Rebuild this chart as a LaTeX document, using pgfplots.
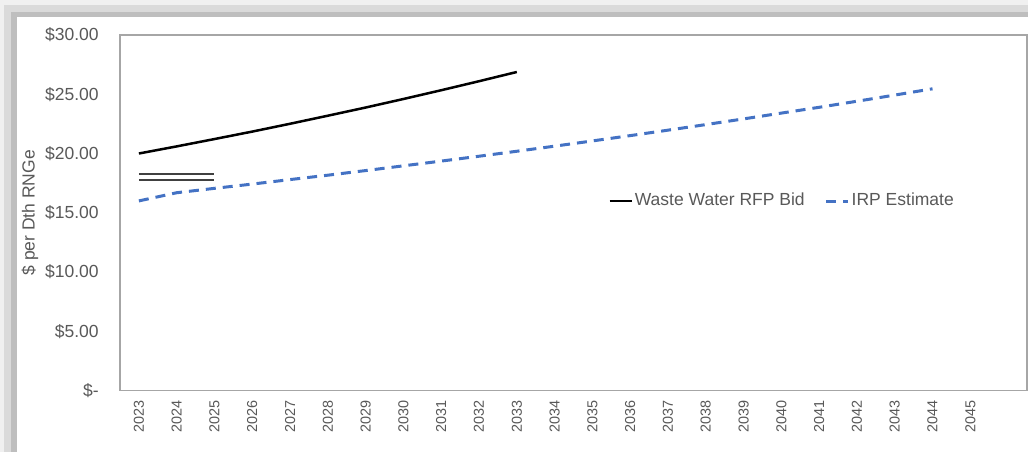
\documentclass[border=0pt]{standalone}
\usepackage{fontspec}
\setmainfont{Liberation Sans}
\usepackage{pgfplots}
\pgfplotsset{compat=1.18}
\definecolor{txtgray}{HTML}{595959}
\definecolor{axgray}{HTML}{A6A6A6}
\definecolor{irpblue}{HTML}{4472C4}
\definecolor{bidgray}{HTML}{404040}
\definecolor{frameA}{HTML}{F0F0F0}
\definecolor{frameB}{HTML}{DADADA}
\definecolor{frameC}{HTML}{BEBEBE}
\begin{document}
\begin{tikzpicture}
\useasboundingbox (0,0) rectangle (514pt,226pt);
\fill[frameA] (0,0) rectangle (514pt,226pt);
\fill[frameB] (2pt,0) rectangle (514pt,223.5pt);
\fill[frameC] (5.5pt,0) rectangle (514pt,220pt);
\fill[white] (8.5pt,0) rectangle (514pt,217.5pt);
\begin{axis}[
  scale only axis,
  width=453.5pt, height=177.75pt,
  at={(60pt,30.75pt)}, anchor=south west,
  xmin=-0.5, xmax=23.5, ymin=0, ymax=30,
  axis line style={axgray, line width=0.6pt},
  major tick length=0pt,
  xtick={0,1,...,22},
  xticklabels={2023,2024,2025,2026,2027,2028,2029,2030,2031,2032,2033,2034,2035,2036,2037,2038,2039,2040,2041,2042,2043,2044,2045},
  ytick={0,5,10,15,20,25,30},
  yticklabels={{\$-\hspace{4.5pt}},{\$5.00},{\$10.00},{\$15.00},{\$20.00},{\$25.00},{\$30.00}},
  xticklabel style={rotate=90, anchor=east, inner sep=0pt, font=\fontsize{7.2}{8}\selectfont, text=txtgray},
  xticklabel shift=5pt,
  yticklabel style={anchor=east, inner sep=0pt, font=\fontsize{8.75}{10}\selectfont, text=txtgray},
  yticklabel shift=10.5pt,
  ylabel={\$ per Dth RNGe},
  every axis y label/.style={at={(axis description cs:-0.0992,0.5)}, rotate=90, anchor=center, font=\fontsize{8.75}{10}\selectfont, text=txtgray},
  legend style={at={(axis description cs:0.730,0.533)}, anchor=center, draw=none, fill=none,
    font=\fontsize{8.75}{10}\selectfont, text=txtgray,
    nodes={inner xsep=1pt, inner ysep=1pt},
    /tikz/every even column/.append style={column sep=9pt}},
  legend columns=2,
  legend image code/.code={\draw[#1] (0pt,0pt) -- (11pt,0pt);},
]
\addplot[black, line width=1.25pt] coordinates {
(0,20.00)(1,20.60)(2,21.22)(3,21.85)(4,22.51)(5,23.19)(6,23.88)(7,24.60)(8,25.34)(9,26.10)(10,26.88)};
\addlegendentry{Waste Water RFP Bid}
\addplot[irpblue, line width=1.5pt, dash pattern=on 5pt off 3.5pt] coordinates {
(0,16.00)(1,16.69)(2,17.06)(3,17.42)(4,17.80)(5,18.17)(6,18.56)(7,18.96)(8,19.36)(9,19.77)(10,20.19)(11,20.62)(12,21.06)(13,21.51)(14,21.97)(15,22.44)(16,22.92)(17,23.41)(18,23.90)(19,24.41)(20,24.93)(21,25.46)};
\addlegendentry{IRP Estimate}
\addplot[bidgray, line width=0.9pt, forget plot] coordinates {(0,18.25)(1,18.25)(2,18.25)};
\addplot[bidgray, line width=0.9pt, forget plot] coordinates {(0,17.75)(1,17.75)(2,17.75)};
\end{axis}
\end{tikzpicture}
\end{document}
